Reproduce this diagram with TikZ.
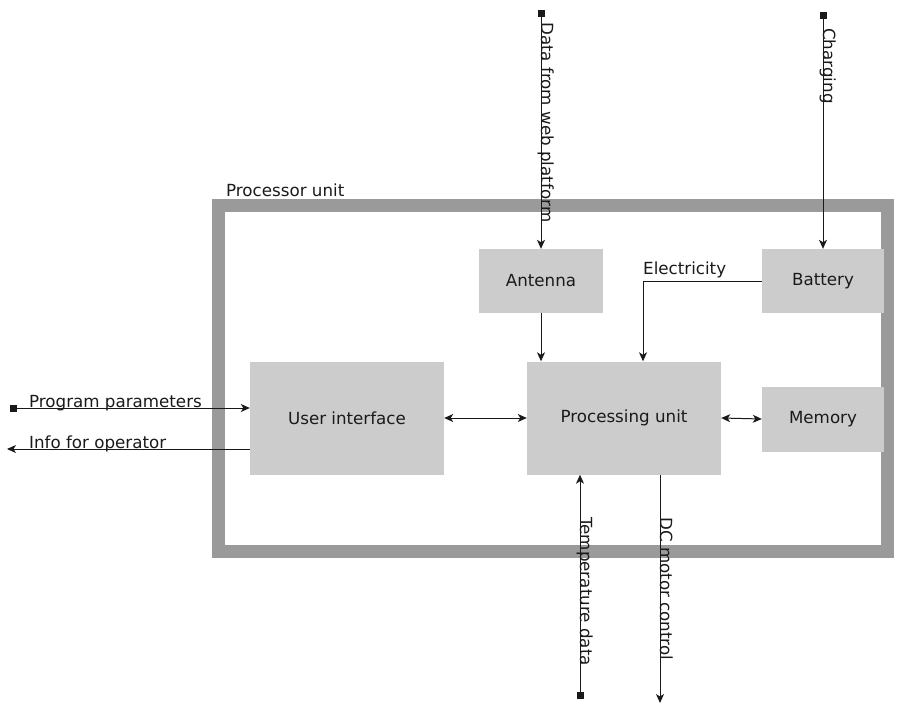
\documentclass[tikz,border=0pt]{standalone}
\usepackage{fontspec}
\setmainfont{DejaVu Sans}
\usetikzlibrary{arrows.meta}

\definecolor{framegray}{HTML}{9A9A9A}
\definecolor{boxgray}{HTML}{CCCCCC}
\definecolor{inkgray}{HTML}{1A1A1A}

\newcommand{\blkfont}{\fontsize{16.7}{19}\selectfont}

\tikzset{
    unit frame/.style={
      draw=framegray,
      line width=13pt
    },
    unit box/.style={
      fill=boxgray,
      text=inkgray,
      inner sep=0pt,
      font=\blkfont
    },
    sig line/.style={
      draw=black!90,
      line width=1pt,
      -{Stealth[length=9pt,width=8pt,inset=2.5pt]}
    },
    sig in/.style={
      sig line,
      {Square[length=7pt,width=7pt]}-{Stealth[length=9pt,width=8pt,inset=2.5pt]}
    },
    sig both/.style={
      sig line,
      {Stealth[length=9pt,width=8pt,inset=2.5pt]}-{Stealth[length=9pt,width=8pt,inset=2.5pt]}
    },
    sig label/.style={
      text=inkgray,
      inner sep=0pt,
      font=\blkfont
    }
  }

\begin{document}
\begin{tikzpicture}[x=1pt,y=-1pt]
      \useasboundingbox (0,0) rectangle (909,706);

      % Rahmen der Prozessoreinheit
      \draw[unit frame] (218,205) rectangle (887,551);
      \node[sig label, anchor=base west] (unitname) at (226,196) {Processor unit};

      % Bloecke
      \node[unit box, minimum width=124pt, minimum height=64pt] (antenna) at (541,281) {Antenna};
      \node[unit box, minimum width=122pt, minimum height=64pt] (battery) at (823,281) {Battery};
      \node[unit box, minimum width=194pt, minimum height=113pt] (ui) at (347,418) {User interface};
      \node[unit box, minimum width=194pt, minimum height=113pt] (pu) at (624,418) {Processing unit};
      \node[unit box, minimum width=122pt, minimum height=65pt] (memory) at (823,419) {Memory};

      % freie Enden
      \coordinate (webin) at (541,10);
      \coordinate (chargein) at (823,12);
      \coordinate (progin) at (10,408);
      \coordinate (infoout) at (7,449);
      \coordinate (tempin) at (580,699);
      \coordinate (dcout) at (660,703);

      % interne Verbindungen
      \draw[sig line] (antenna.south) -- (antenna.south |- pu.north);
      \draw[sig line] (battery.west) -| ([xshift=19pt]pu.north);
      \draw[sig both] (ui.east) -- (pu.west);
      \draw[sig both] (pu.east) -- (memory.west);

      % externe Signale
      \draw[sig in] (webin) -- (antenna.north);
      \draw[sig in] (chargein) -- (battery.north);
      \draw[sig in] (progin) -- (progin -| ui.west);
      \draw[sig line] (infoout -| ui.west) -- (infoout);
      \draw[sig in] (tempin) -- (tempin |- pu.south);
      \draw[sig line] (dcout |- pu.south) -- (dcout);

      % Beschriftungen
      \node[sig label, anchor=base west] (elec) at (643,274) {Electricity};
      \node[sig label, anchor=base west] (progtxt) at (29,407) {Program parameters};
      \node[sig label, anchor=base west] (infotxt) at (29,448) {Info for operator};
      \node[sig label, rotate=-90, anchor=base west] (webtxt) at (541,22) {Data from web platform};
      \node[sig label, rotate=-90, anchor=base west] (chargetxt) at (823,28) {Charging};
      \node[sig label, rotate=-90, anchor=base west] (temptxt) at (580,517) {Temperature data};
      \node[sig label, rotate=-90, anchor=base west] (dctxt) at (660,517) {DC motor control};
    \end{tikzpicture}
\end{document}
